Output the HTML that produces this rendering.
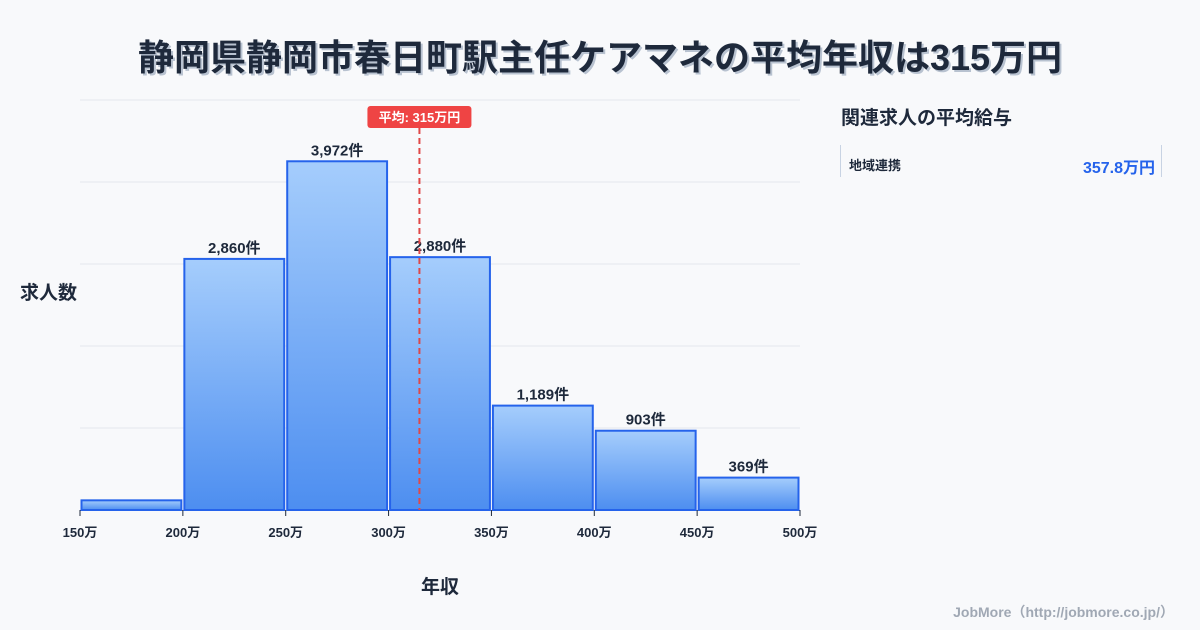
<!DOCTYPE html>
<html><head><meta charset="utf-8"><style>
body{margin:0;width:1200px;height:630px;background:#f8f9fb;font-family:"Liberation Sans","Noto Sans CJK JP",sans-serif;overflow:hidden;position:relative}
.t{font-family:"Liberation Sans","Noto Sans CJK JP",sans-serif}
</style></head><body>
<div style="position:absolute;left:0;top:29px;width:1200px;text-align:center;font-size:36px;font-weight:bold;color:#1e293b;text-shadow:2px 2px 0 #b8c2d0">静岡県静岡市春日町駅主任ケアマネの平均年収は315万円</div>
<svg id="c" width="1200" height="630" style="position:absolute;left:0;top:0">
<defs><linearGradient id="g" x1="0" y1="0" x2="0" y2="1"><stop offset="0" stop-color="#a5cdfc"/><stop offset="1" stop-color="#4d8ef0"/></linearGradient></defs>
</svg>
<div style="position:absolute;left:841px;top:103px;font-size:19px;font-weight:bold;color:#1e293b">関連求人の平均給与</div>
<div style="position:absolute;left:840px;top:145px;width:320px;height:32px;border-left:1px solid #c8d3e3;border-right:1px solid #c8d3e3">
<span style="position:absolute;left:8px;top:10px;font-size:13px;font-weight:bold;color:#1e293b">地域連携</span>
<span style="position:absolute;right:6px;top:9px;font-size:16px;font-weight:bold;color:#2563eb">357.8万円</span></div>
<div style="position:absolute;right:26px;top:602px;font-size:14px;font-weight:bold;color:#a0a8b4">JobMore（http://jobmore.co.jp/）</div>
<script>
const categories=["150万","200万","250万","300万","350万","400万","450万","500万"];
const counts=[110,2860,3972,2880,1189,903,369];
const countLabels=["","2,860件","3,972件","2,880件","1,189件","903件","369件"];
const average=315;
const svg=document.getElementById('c');const NS='http://www.w3.org/2000/svg';
const x0=80,x1=800,y0=510,y1=100,vmin=150,vmax=500,cmax=4670;
const X=v=>x0+(v-vmin)/(vmax-vmin)*(x1-x0);
const Y=c=>y0-c/cmax*(y0-y1);
function el(t,a,txt){const e=document.createElementNS(NS,t);for(const k in a)e.setAttribute(k,a[k]);if(txt!==undefined)e.textContent=txt;svg.appendChild(e);return e;}
for(let i=0;i<=5;i++){const g=el('line',{x1:x0,x2:x1,y1:Y(cmax*i/5),y2:Y(cmax*i/5),stroke:'#e3e7ee','stroke-width':1});

}
counts.forEach((c,i)=>{const a=X(vmin+50*i)+1.5,b=X(vmin+50*(i+1))-1.5;
const r=el('rect',{x:a,y:Y(c),width:b-a,height:y0-Y(c),fill:'url(#g)',stroke:'#2563eb','stroke-width':2});


if(countLabels[i]){const t=el('text',{x:(a+b)/2,y:Y(c)-6,'text-anchor':'middle','font-size':15,'font-weight':'bold',fill:'#1e293b',class:'t'},countLabels[i]);

}});
categories.forEach((c,i)=>{const x=X(vmin+50*i);
const tk=el('line',{x1:x,x2:x,y1:y0,y2:y0+6,stroke:'#1e293b','stroke-width':1});


const t=el('text',{x:x,y:537,'text-anchor':'middle','font-size':13,'font-weight':'bold',fill:'#1e293b',class:'t'},c);

});
const ax=X(average);
const al=el('line',{x1:ax,x2:ax,y1:128,y2:y0,stroke:'#e04848','stroke-width':2,'stroke-dasharray':'6,4'});


const ab=el('rect',{x:ax-52,y:106,width:104,height:22,rx:3,fill:'#ef4444'});


const at=el('text',{x:ax,y:122,'text-anchor':'middle','font-size':13,'font-weight':'bold',fill:'#fff',class:'t'},'平均: '+average+'万円');


const yt=el('text',{x:20,y:299,'font-size':19,'font-weight':'bold',fill:'#1e293b',class:'t'},'求人数');


const xt=el('text',{x:440,y:593,'text-anchor':'middle','font-size':19,'font-weight':'bold',fill:'#1e293b',class:'t'},'年収');


</script>
</body></html>
